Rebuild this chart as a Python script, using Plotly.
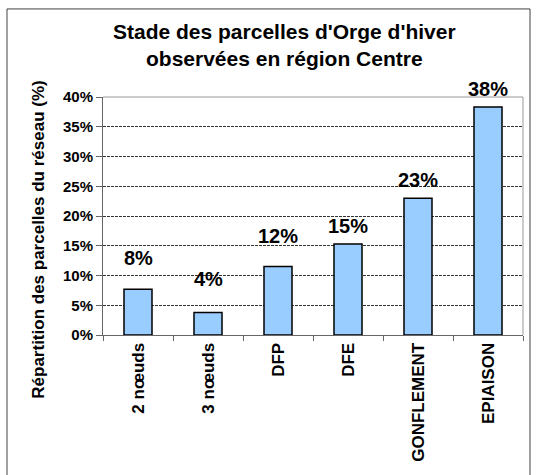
import plotly.graph_objects as go

# data
stades = ["2 nœuds", "3 nœuds", "DFP", "DFE", "GONFLEMENT", "EPIAISON"]
parts = [7.7, 3.8, 11.5, 15.3, 23.0, 38.3]
etiquettes = ["8%", "4%", "12%", "15%", "23%", "38%"]
decalages = [31, 33, 31, 18, 18, 18]  # label offset above bar (px)

police = "Liberation Sans, Arial, sans-serif"

fig = go.Figure()
fig.add_trace(
    go.Bar(
        x=stades,
        y=parts,
        width=0.4,
        marker=dict(color="#99CCFF", line=dict(color="black", width=1.5)),
        hoverinfo="x+y",
    )
)

# data labels above the bars
for s, v, t, d in zip(stades, parts, etiquettes, decalages):
    fig.add_annotation(
        x=s, y=v, text=t, showarrow=False, yanchor="middle", yshift=d,
        font=dict(family=police, size=20, color="black", weight="bold"),
    )

# title (as annotation for exact placement)
fig.add_annotation(
    x=0.433, y=1.2185, xref="paper", yref="paper",
    text="Stade des parcelles d'Orge d'hiver<br>observées en région Centre",
    showarrow=False, xanchor="center", yanchor="middle",
    font=dict(family=police, size=21, color="black", weight="bold"),
)

# y axis title
fig.add_annotation(
    x=-0.18, y=0.40, xref="paper", yref="paper",
    text="Répartition des parcelles du réseau (%)",
    textangle=-90, showarrow=False,
    font=dict(family=police, size=17, color="black", weight="bold"),
)

fig.update_layout(
    width=536,
    height=475,
    margin=dict(l=103, r=13, t=97, b=140),
    paper_bgcolor="white",
    plot_bgcolor="white",
    showlegend=False,
    shapes=[
        # outer frame
        dict(type="rect", xref="paper", yref="paper",
             x0=-0.2286, x1=1.0167, y0=-0.65, y1=1.37,
             line=dict(color="#404040", width=1), layer="below"),
        # top & right border of plot area
        dict(type="line", xref="paper", yref="paper", x0=0, x1=1, y0=1, y1=1,
             line=dict(color="#999999", width=1), layer="above"),
        dict(type="line", xref="paper", yref="paper", x0=1, x1=1, y0=0, y1=1,
             line=dict(color="#999999", width=1), layer="above"),
    ],
)

fig.update_yaxes(
    range=[0, 40],
    tick0=0,
    dtick=5,
    ticksuffix="%",
    showgrid=True,
    gridcolor="#333333",
    griddash="3px,1px",
    gridwidth=1,
    zeroline=False,
    showline=True,
    linecolor="#666666",
    linewidth=1,
    ticks="outside",
    ticklen=6,
    tickcolor="#666666",
    tickfont=dict(family=police, size=15, color="black", weight="bold"),
    fixedrange=True,
)

fig.update_xaxes(
    tickangle=-90,
    tickson="boundaries",
    ticks="outside",
    ticklen=5,
    tickcolor="#666666",
    showline=True,
    linecolor="#666666",
    linewidth=1,
    showgrid=False,
    tickfont=dict(family=police, size=17, color="black", weight="bold"),
    fixedrange=True,
)

fig.write_html(
    "out.html",
    config={"displayModeBar": False},
    post_script="document.body.style.margin='0';",
)
